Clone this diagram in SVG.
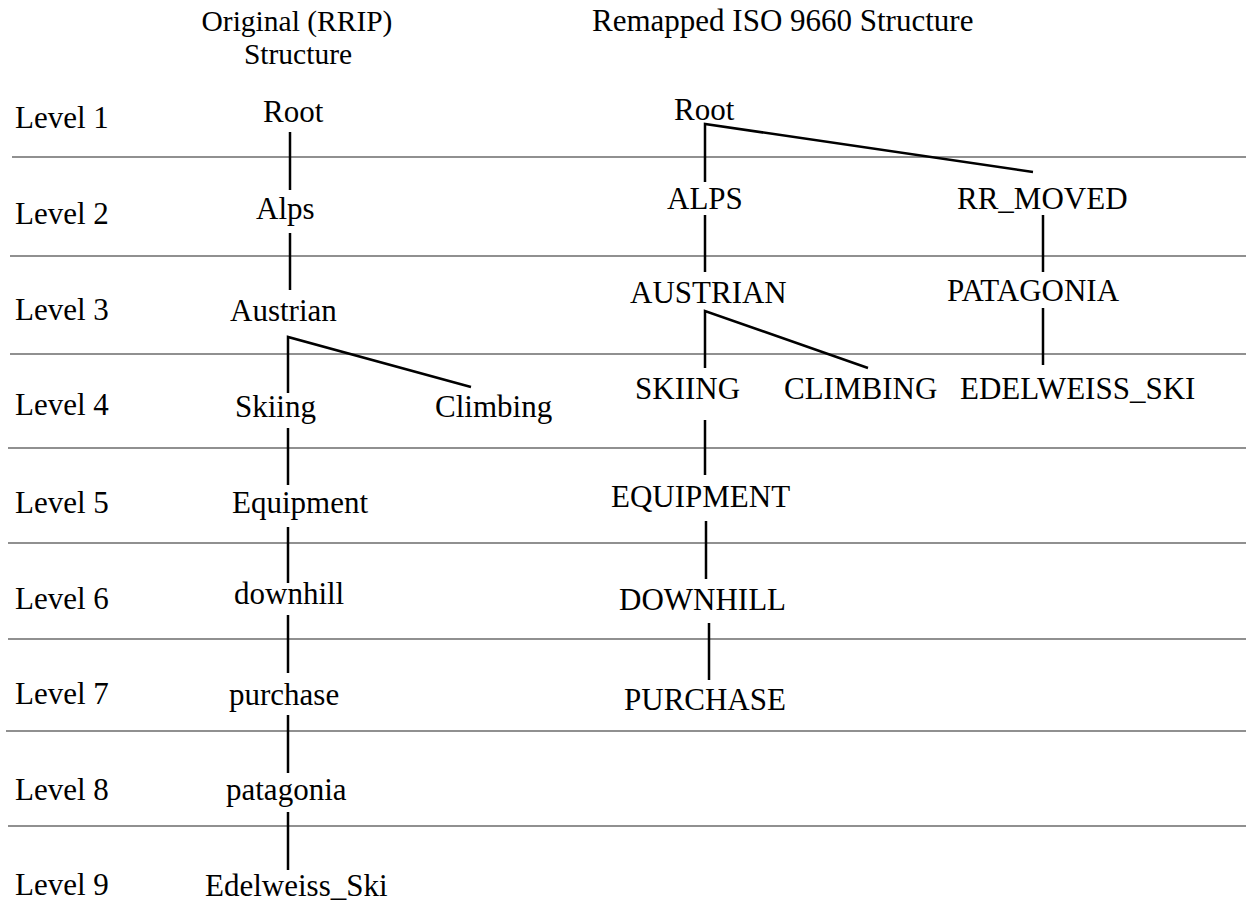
<svg xmlns="http://www.w3.org/2000/svg" width="1246" height="924" viewBox="0 0 1246 924">
<style>
text{font-family:"Liberation Serif","Times New Roman",serif;font-size:31px;fill:#000}
.title{font-size:29.5px}
.sep{stroke:#222;stroke-width:1.2;fill:none}
.con{stroke:#000;stroke-width:2.5;fill:none}
</style>
<rect width="1246" height="924" fill="#fff"/>
<g id="headers">
<text class="title" x="297" y="31" text-anchor="middle">Original (RRIP)</text>
<text class="title" x="298" y="64" text-anchor="middle">Structure</text>
<text x="592" y="31">Remapped ISO 9660 Structure</text>
</g>
<g id="levels">
<text x="15" y="128">Level 1</text>
<text x="15" y="224">Level 2</text>
<text x="15" y="320">Level 3</text>
<text x="15" y="415">Level 4</text>
<text x="15" y="513">Level 5</text>
<text x="15" y="609">Level 6</text>
<text x="15" y="704">Level 7</text>
<text x="15" y="800">Level 8</text>
<text x="15" y="895">Level 9</text>
</g>
<g id="separators">
<line class="sep" x1="12" y1="157" x2="1246" y2="157"/>
<line class="sep" x1="10" y1="256" x2="1246" y2="256"/>
<line class="sep" x1="10" y1="354" x2="1246" y2="354"/>
<line class="sep" x1="8" y1="448" x2="1246" y2="448"/>
<line class="sep" x1="8" y1="543" x2="1246" y2="543"/>
<line class="sep" x1="8" y1="639" x2="1246" y2="639"/>
<line class="sep" x1="6" y1="731" x2="1246" y2="731"/>
<line class="sep" x1="8" y1="826" x2="1246" y2="826"/>
</g>
<g id="connectors">
<line class="con" x1="290" y1="132" x2="290" y2="190"/>
<line class="con" x1="290" y1="233" x2="290" y2="290"/>
<polyline class="con" points="288,393 288,337 471,387"/>
<line class="con" x1="288" y1="428" x2="288" y2="485"/>
<line class="con" x1="288" y1="527" x2="288" y2="583"/>
<line class="con" x1="288" y1="615" x2="288" y2="673"/>
<line class="con" x1="288" y1="715" x2="288" y2="773"/>
<line class="con" x1="288" y1="812" x2="288" y2="870"/>
<polyline class="con" points="705,182 705,124 1033,172"/>
<line class="con" x1="705" y1="215" x2="705" y2="272"/>
<line class="con" x1="1043" y1="215" x2="1043" y2="272"/>
<polyline class="con" points="705,368 705,311 868,368"/>
<line class="con" x1="1043" y1="308" x2="1043" y2="365"/>
<line class="con" x1="705" y1="420" x2="705" y2="475"/>
<line class="con" x1="706" y1="521" x2="706" y2="579"/>
<line class="con" x1="709" y1="623" x2="709" y2="680"/>
</g>
<g id="n-root-l"><text x="263" y="122">Root</text></g>
<g id="n-alps-l"><text x="256" y="219">Alps</text></g>
<g id="n-austrian-l"><text x="230" y="321">Austrian</text></g>
<g id="n-skiing-l"><text x="235" y="417">Skiing</text></g>
<g id="n-climbing-l"><text x="435" y="417">Climbing</text></g>
<g id="n-equipment-l"><text x="232" y="513">Equipment</text></g>
<g id="n-downhill-l"><text x="234" y="604">downhill</text></g>
<g id="n-purchase-l"><text x="229" y="705">purchase</text></g>
<g id="n-patagonia-l"><text x="226" y="800">patagonia</text></g>
<g id="n-edelweiss-l"><text x="205" y="896">Edelweiss_Ski</text></g>
<g id="n-root-r"><text x="674" y="120">Root</text></g>
<g id="n-alps-r"><text x="667" y="209">ALPS</text></g>
<g id="n-rrmoved-r"><text x="957" y="209">RR_MOVED</text></g>
<g id="n-austrian-r"><text x="630" y="303">AUSTRIAN</text></g>
<g id="n-patagonia-r"><text x="947" y="301">PATAGONIA</text></g>
<g id="n-skiing-r"><text x="635" y="399">SKIING</text></g>
<g id="n-climbing-r"><text x="784" y="399">CLIMBING</text></g>
<g id="n-edelweiss-r"><text x="960" y="399">EDELWEISS_SKI</text></g>
<g id="n-equipment-r"><text x="611" y="507">EQUIPMENT</text></g>
<g id="n-downhill-r"><text x="619" y="610">DOWNHILL</text></g>
<g id="n-purchase-r"><text x="624" y="710">PURCHASE</text></g>
</svg>
